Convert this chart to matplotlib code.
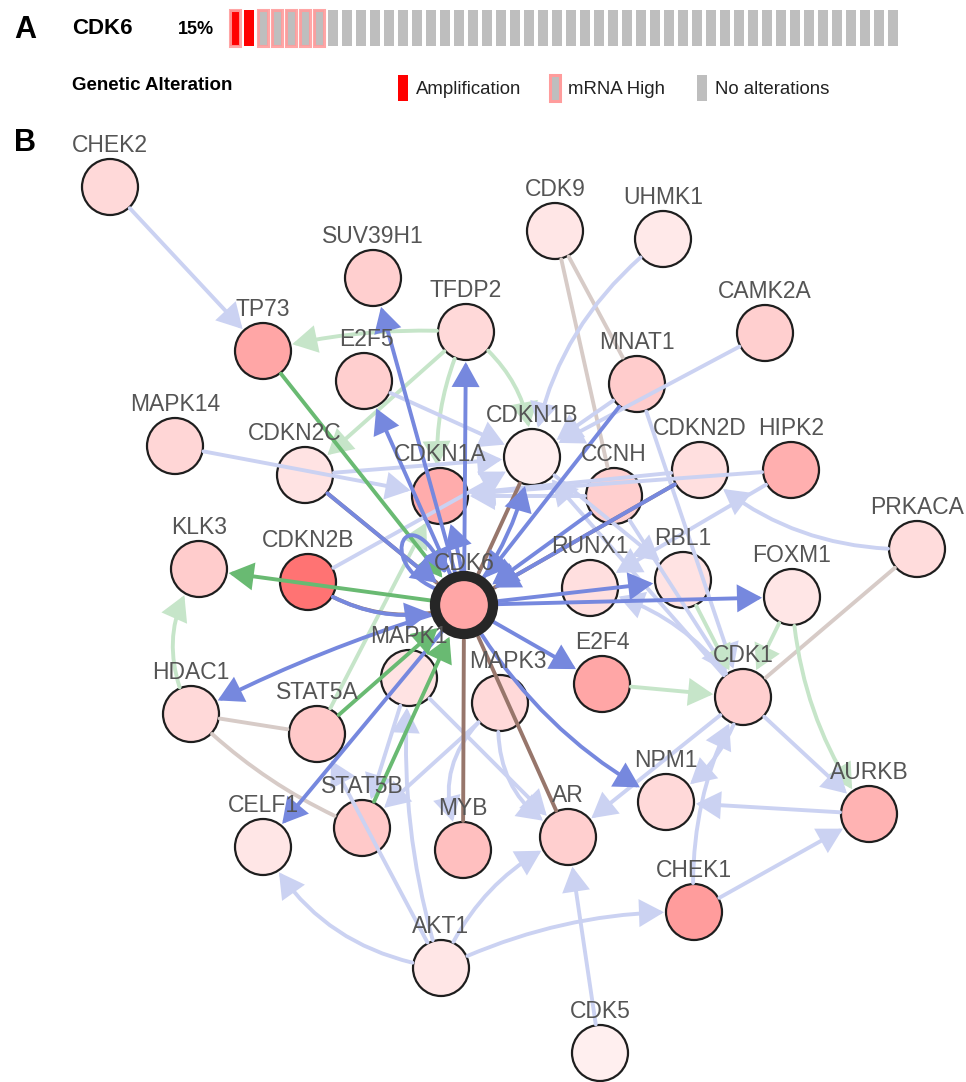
import numpy as np
import matplotlib
matplotlib.use('Agg')
import matplotlib.pyplot as plt
from matplotlib.patches import Circle, Rectangle, FancyArrowPatch
from matplotlib.path import Path
from matplotlib.colors import LinearSegmentedColormap, Normalize, to_rgb

plt.rcParams['font.family'] = ['Liberation Sans', 'DejaVu Sans']

# ---- panel A: oncoprint track for the query gene ----
query = 'CDK6'
# per-sample alteration: (cna, mrna)
sample_cna = ['amp', 'amp'] + [None] * 46
sample_mrna = ['high', None, 'high', 'high', 'high', 'high', 'high'] + [None] * 41

# ---- panel B: network neighbours, alteration frequency (%) per gene ----
genes = ['CHEK2', 'TP73', 'SUV39H1', 'TFDP2', 'E2F5', 'CDK9', 'UHMK1', 'CAMK2A',
         'MNAT1', 'MAPK14', 'CDKN2C', 'CDKN1A', 'CDKN1B', 'CCNH', 'CDKN2D', 'HIPK2',
         'PRKACA', 'KLK3', 'CDKN2B', 'CDK6', 'RUNX1', 'RBL1', 'FOXM1', 'HDAC1',
         'MAPK1', 'MAPK3', 'STAT5A', 'E2F4', 'CDK1', 'NPM1', 'AURKB', 'CELF1',
         'STAT5B', 'MYB', 'AR', 'CHEK1', 'AKT1', 'CDK5']
alt_pct = [6, 14, 7.5, 6, 7.5, 4, 3.5, 7.5,
           8, 6.5, 4.5, 13, 2.5, 7.5, 5, 12.5,
           5.5, 8, 22, 14, 5, 4.5, 4, 6,
           4.5, 6, 8.5, 14, 7.5, 6, 12, 4,
           8.5, 10, 7.5, 15.5, 4, 2.5]

# interactions: (source, target, type)
edges = [
    # query gene interactions
    ('CDK6', 'SUV39H1', 'state'), ('CDK6', 'TFDP2', 'state'), ('CDK6', 'E2F5', 'state'),
    ('TP73', 'CDK6', 'expr'), ('CDKN2C', 'CDK6', 'complex'), ('CDKN2C', 'CDK6', 'state'),
    ('CDKN2B', 'CDK6', 'complex'), ('CDKN2B', 'CDK6', 'state'), ('CDK6', 'KLK3', 'expr'),
    ('CDK6', 'HDAC1', 'state'), ('CDK6', 'CELF1', 'state'), ('STAT5A', 'CDK6', 'expr'),
    ('STAT5B', 'CDK6', 'expr'), ('MYB', 'CDK6', 'complex'), ('AR', 'CDK6', 'complex'),
    ('CDK6', 'E2F4', 'state'), ('CDK6', 'NPM1', 'state'), ('CDK6', 'FOXM1', 'state'),
    ('CDK6', 'RBL1', 'state'), ('CDKN2D', 'CDK6', 'complex'), ('CDKN2D', 'CDK6', 'state'),
    ('CDKN1B', 'CDK6', 'complex'), ('CDK6', 'CDKN1B', 'state'), ('CDK6', 'CDKN1A', 'state'),
    ('MNAT1', 'CDK6', 'state'), ('CCNH', 'CDK6', 'state'), ('CDK6', 'CDK6', 'state'),
    # neighbour-neighbour interactions
    ('CHEK2', 'TP73', 'state'), ('TFDP2', 'TP73', 'expr'), ('TFDP2', 'CDKN2C', 'expr'),
    ('TFDP2', 'CDKN1A', 'expr'), ('TFDP2', 'CDKN1B', 'expr'), ('E2F5', 'CDKN1B', 'state'),
    ('MAPK14', 'CDKN1A', 'state'), ('CDKN2C', 'CDKN1B', 'state'), ('CDK9', 'MNAT1', 'complex'),
    ('CDK9', 'CCNH', 'complex'), ('UHMK1', 'CDKN1B', 'state'), ('CAMK2A', 'CDKN1B', 'state'),
    ('HIPK2', 'CDKN1A', 'state'), ('HIPK2', 'RUNX1', 'state'), ('PRKACA', 'CDKN2D', 'state'),
    ('PRKACA', 'CDK1', 'complex'), ('CDKN2D', 'CDKN1A', 'state'), ('CCNH', 'CDKN1A', 'state'),
    ('MNAT1', 'CDKN1B', 'state'), ('MNAT1', 'CDK1', 'state'), ('CCNH', 'CDK1', 'state'),
    ('HDAC1', 'KLK3', 'expr'), ('HDAC1', 'STAT5A', 'complex'), ('HDAC1', 'STAT5B', 'complex'),
    ('STAT5A', 'CDKN1A', 'expr'), ('E2F4', 'CDK1', 'expr'), ('FOXM1', 'CDK1', 'expr'),
    ('FOXM1', 'AURKB', 'expr'), ('RBL1', 'CDK1', 'expr'), ('CDK1', 'AURKB', 'state'),
    ('CDK1', 'NPM1', 'state'), ('CHEK1', 'CDK1', 'state'), ('CDK1', 'AR', 'state'),
    ('CDK1', 'RUNX1', 'state'), ('CDK1', 'CDKN1B', 'state'), ('AURKB', 'NPM1', 'state'),
    ('CHEK1', 'AURKB', 'state'), ('AKT1', 'CELF1', 'state'), ('AKT1', 'AR', 'state'),
    ('AKT1', 'CHEK1', 'state'), ('AKT1', 'STAT5A', 'state'), ('AKT1', 'MAPK1', 'state'),
    ('CDK5', 'AR', 'state'), ('MAPK1', 'STAT5B', 'state'), ('MAPK1', 'AR', 'state'),
    ('MAPK3', 'MYB', 'state'), ('MAPK3', 'STAT5B', 'state'), ('MAPK3', 'AR', 'state'),
    ('CDKN2B', 'CDKN1B', 'state'), ('CDKN1B', 'RBL1', 'state'),
]

# ---- layout (pixel space, y down) ----
layout = {
    'CHEK2': (110, 187), 'TP73': (263, 351), 'SUV39H1': (373, 278), 'TFDP2': (466, 332),
    'E2F5': (364, 381), 'CDK9': (555, 231), 'UHMK1': (663, 239), 'CAMK2A': (765, 333),
    'MNAT1': (637, 384), 'MAPK14': (175, 446), 'CDKN2C': (305, 475), 'CDKN1A': (440, 496),
    'CDKN1B': (532, 457), 'CCNH': (614, 496), 'CDKN2D': (700, 470), 'HIPK2': (791, 470),
    'PRKACA': (917, 549), 'KLK3': (199, 569), 'CDKN2B': (308, 582), 'CDK6': (464, 605),
    'RUNX1': (590, 588), 'RBL1': (683, 580), 'FOXM1': (792, 597), 'HDAC1': (191, 714),
    'MAPK1': (409, 678), 'MAPK3': (500, 703), 'STAT5A': (317, 734), 'E2F4': (602, 684),
    'CDK1': (743, 697), 'NPM1': (666, 802), 'AURKB': (869, 814), 'CELF1': (263, 847),
    'STAT5B': (362, 828), 'MYB': (463, 850), 'AR': (568, 837), 'CHEK1': (694, 912),
    'AKT1': (441, 968), 'CDK5': (600, 1053),
}
label_dx = {'CDKN2C': -10, 'MAPK3': 8, 'E2F5': 2}
bend = {
    ('TFDP2', 'TP73'): 0.08, ('TFDP2', 'CDKN1A'): 0.15, ('TFDP2', 'CDKN1B'): -0.25,
    ('UHMK1', 'CDKN1B'): 0.2, ('PRKACA', 'CDKN2D'): -0.2, ('HDAC1', 'KLK3'): -0.3,
    ('HDAC1', 'STAT5B'): 0.1, ('FOXM1', 'AURKB'): 0.15, ('CDK1', 'NPM1'): -0.2,
    ('CHEK1', 'CDK1'): -0.15, ('CDK1', 'RUNX1'): 0.2, ('AKT1', 'CELF1'): -0.25,
    ('AKT1', 'AR'): -0.2, ('AKT1', 'CHEK1'): -0.12, ('AKT1', 'MAPK1'): -0.1,
    ('MAPK3', 'MYB'): 0.4, ('MAPK3', 'AR'): 0.35, ('CDK6', 'NPM1'): 0.15,
    ('CDKN2C', 'CDK6'): 0.0, ('CDKN2B', 'CDK6'): 0.25, ('CDKN2D', 'CDK6'): 0.0,
    ('CDK6', 'HDAC1'): 0.05, ('CDK6', 'CDKN1A'): 0.1,
}

EDGE_COLORS = {'state': '#6a7edb', 'expr': '#5cb466', 'complex': '#8e6a5e'}
NODE_R = 29
QUERY_R = 34
PX = 0.72  # points per pixel at 100 dpi


def tint(color, amount):
    # flat colour of `color` laid over white at the given opacity
    rgb = np.array(to_rgb(color))
    return tuple(amount * rgb + (1 - amount) * np.ones(3))


fig = plt.figure(figsize=(9.66, 10.82), dpi=100)
ax = fig.add_axes([0, 0, 1, 1])
ax.set_xlim(0, 966)
ax.set_ylim(1082, 0)
ax.axis('off')

# ---------------- panel A ----------------
ax.text(14, 30, 'A', fontsize=22, fontweight='bold', va='center', ha='left')
ax.text(72, 29, query, fontsize=16, fontweight='bold', va='center', ha='left')
n_alt = sum(1 for c, m in zip(sample_cna, sample_mrna) if c or m)
pct = 100.0 * n_alt / len(sample_cna)
ax.text(178, 30, '{0:.0f}%'.format(pct), fontsize=13, fontweight='bold', va='center', ha='left')

for i, (cna, mrna) in enumerate(zip(sample_cna, sample_mrna)):
    xc = 235 + 14 * i
    fill = '#ff0000' if cna == 'amp' else '#bebebe'
    ax.add_patch(Rectangle((xc - 4.8, 10), 9.6, 36, facecolor=fill, edgecolor='none', zorder=2))
    if mrna == 'high':
        ax.add_patch(Rectangle((xc - 4.8, 10), 9.6, 36, facecolor='none',
                               edgecolor='#ff9c9c', lw=2.2, alpha=0.9, zorder=3))

ax.text(72, 86, 'Genetic Alteration', fontsize=13.5, fontweight='bold', va='center', ha='left')
legend_items = [('amp', None, 'Amplification', 398), (None, 'high', 'mRNA High', 550),
                (None, None, 'No alterations', 697)]
for cna, mrna, name, x0 in legend_items:
    fill = '#ff0000' if cna == 'amp' else '#bebebe'
    ax.add_patch(Rectangle((x0, 75), 9.6, 26, facecolor=fill, edgecolor='none'))
    if mrna == 'high':
        ax.add_patch(Rectangle((x0, 75), 9.6, 26, facecolor='none', edgecolor='#ff9c9c', lw=2.2))
    ax.text(x0 + 18, 89, name, fontsize=13.4, va='center', ha='left', color='#222222')

# ---------------- panel B ----------------
ax.text(14, 143, 'B', fontsize=22, fontweight='bold', va='center', ha='left')

cmap = LinearSegmentedColormap.from_list('alt', ['#ffffff', '#ff0000'])
norm = Normalize(0, 40)
freq = dict(zip(genes, alt_pct))

for g in genes:
    x, y = layout[g]
    if g == query:
        continue
    ax.add_patch(Circle((x, y), NODE_R - 1, facecolor=cmap(norm(freq[g])),
                        edgecolor='#1e1e1e', lw=1.6, zorder=2))


def radius(g):
    return QUERY_R if g == query else NODE_R


def draw_edge(src, dst, kind):
    strong = query in (src, dst)
    color = tint(EDGE_COLORS[kind], 0.92 if strong else 0.35)
    z = 4 if strong else 3
    directed = kind != 'complex'
    style = '-|>,head_length=1.25,head_width=0.7' if directed else '-'
    if src == dst:
        cx, cy = layout[src]
        verts = [(cx - 30, cy - 17), (cx - 90, cy - 45), (cx - 55, cy - 110), (cx - 18, cy - 31)]
        path = Path(verts, [Path.MOVETO, Path.CURVE4, Path.CURVE4, Path.CURVE4])
        p = FancyArrowPatch(path=path, arrowstyle=style, mutation_scale=11, color=color,
                            lw=2.8, zorder=z)
        ax.add_patch(p)
        return
    rad = bend.get((src, dst), 0.0)
    p = FancyArrowPatch(layout[src], layout[dst], arrowstyle=style, mutation_scale=11,
                        connectionstyle='arc3,rad={0}'.format(rad),
                        shrinkA=radius(src) * PX, shrinkB=(radius(dst) + 1) * PX,
                        color=color, lw=2.8, zorder=z, joinstyle='miter')
    ax.add_patch(p)


seen = {}
for src, dst, kind in edges:
    key = tuple(sorted((src, dst)))
    # parallel edges between the same pair get pushed apart
    if key in seen and (src, dst) not in bend and src != dst:
        bend[(src, dst)] = 0.12 * (1 if seen[key] % 2 else -1)
    seen[key] = seen.get(key, 0) + 1
    draw_edge(src, dst, kind)

# query node with its dark ring
qx, qy = layout[query]
ax.add_patch(Circle((qx, qy), 29, facecolor=cmap(norm(freq[query])),
                    edgecolor='#262626', lw=7.4, zorder=5))

for g in genes:
    x, y = layout[g]
    ax.text(x + label_dx.get(g, 0), y - 35, g, fontsize=16.5, color='#555555',
            ha='center', va='baseline', zorder=6)

fig.savefig('out.png', dpi=100)
